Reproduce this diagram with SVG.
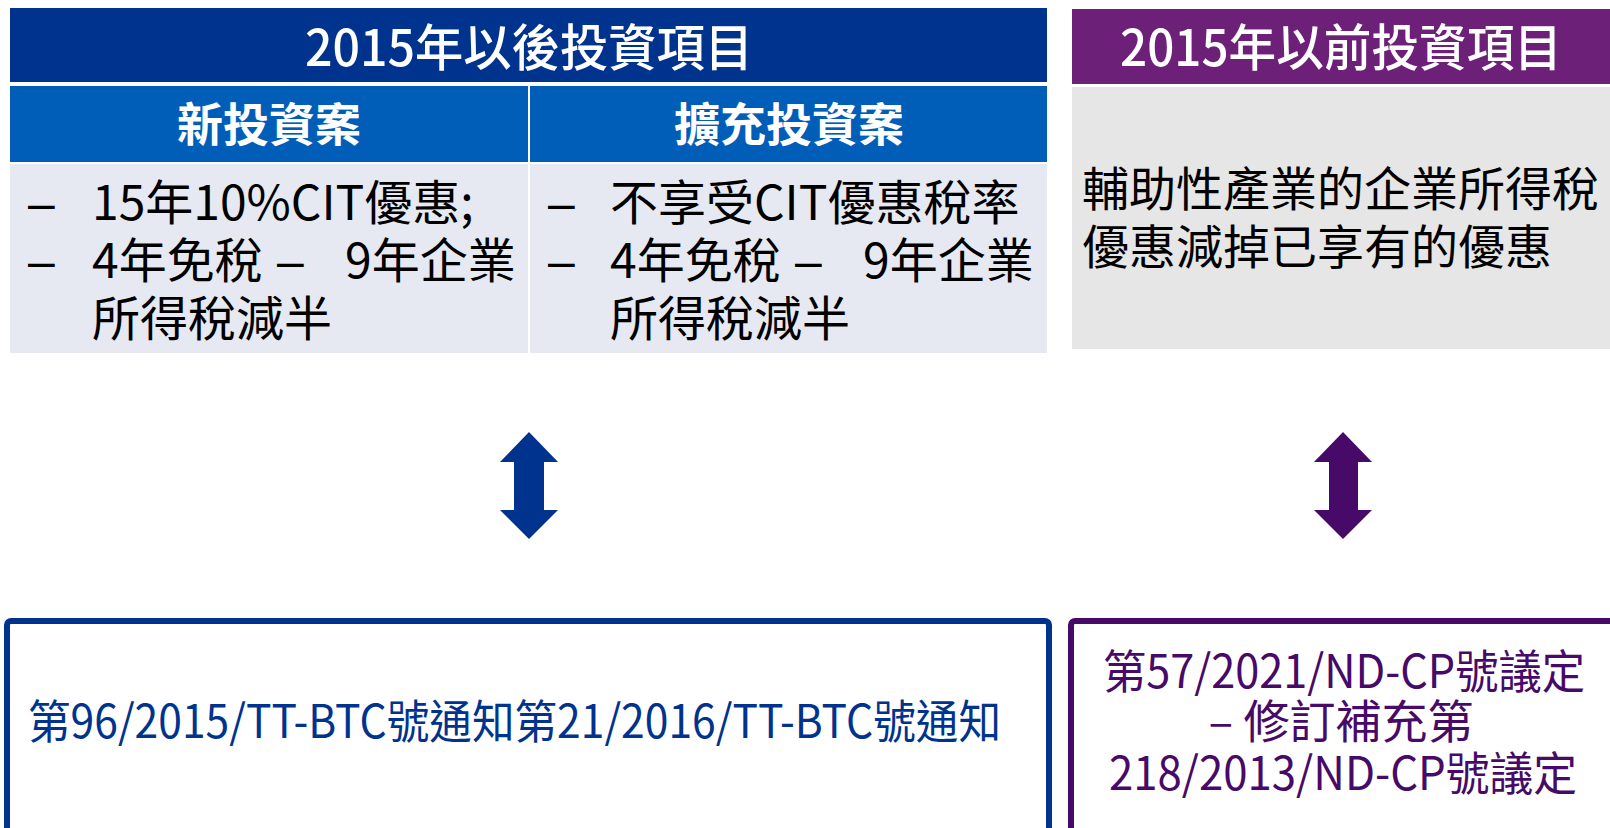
<svg xmlns="http://www.w3.org/2000/svg" width="1610" height="828" viewBox="0 0 1610 828">
<style>
  text { font-family: "Noto Sans CJK TC", "Noto Sans", sans-serif; }
  .hdr { fill: #ffffff; font-size: 50px; font-weight: 500; text-anchor: middle; }
  .sub { fill: #ffffff; font-size: 46px; font-weight: bold; text-anchor: middle; }
  .body { fill: #000000; font-size: 48px; }
  .dash { font-family: "Liberation Sans", "Noto Sans", sans-serif; }
  .gray { fill: #000000; font-size: 47px; }
  .btxt { fill: #00338D; font-size: 46px; }
  .ptxt { fill: #470A68; font-size: 46px; text-anchor: middle; }
</style>
<rect width="1610" height="828" fill="#ffffff"/>

<g id="header-after">
  <rect x="10" y="8" width="1037" height="74" fill="#00338D"/>
  <text class="hdr" x="529" y="66" textLength="448" lengthAdjust="spacingAndGlyphs">2015年以後投資項目</text>
</g>

<g id="new-investment">
  <rect x="10" y="86" width="518" height="76" fill="#005EB8"/>
  <text class="sub" x="269" y="141">新投資案</text>
  <rect x="10" y="164" width="518" height="189" fill="#E6E9F2"/>
  <text class="body"><tspan class="dash" x="28" y="220">–</tspan><tspan x="92" y="220">15年10%CIT優惠;</tspan><tspan class="dash" x="28" y="278">–</tspan><tspan x="92" y="278">4年免稅</tspan><tspan class="dash" x="277" y="278">–</tspan><tspan x="345" y="278">9年企業</tspan><tspan x="92" y="336">所得稅減半</tspan></text>
</g>

<g id="expansion-investment">
  <rect x="530" y="86" width="517" height="76" fill="#005EB8"/>
  <text class="sub" x="789" y="141">擴充投資案</text>
  <rect x="530" y="164" width="517" height="189" fill="#E6E9F2"/>
  <text class="body"><tspan class="dash" x="548" y="220">–</tspan><tspan x="610" y="220">不享受CIT優惠稅率</tspan><tspan class="dash" x="548" y="278">–</tspan><tspan x="610" y="278">4年免稅</tspan><tspan class="dash" x="795" y="278">–</tspan><tspan x="863" y="278">9年企業</tspan><tspan x="610" y="336">所得稅減半</tspan></text>
</g>

<g id="header-before">
  <rect x="1072" y="9" width="538" height="75" fill="#6D2077"/>
  <text class="hdr" x="1341" y="66" textLength="442" lengthAdjust="spacingAndGlyphs">2015年以前投資項目</text>
</g>

<g id="before-content">
  <rect x="1072" y="87" width="538" height="262" fill="#E6E6E6"/>
  <text class="gray"><tspan x="1082" y="206">輔助性產業的企業所得稅</tspan><tspan x="1082" y="264">優惠減掉已享有的優惠</tspan></text>
</g>

<g id="connectors">
  <polygon points="529,432 558,462 544,462 544,510 558,510 529,539 500,510 514,510 514,462 500,462" fill="#00338D"/>
  <polygon points="1343,432 1372,462 1358,462 1358,510 1372,510 1343,539 1314,510 1329,510 1329,462 1314,462" fill="#470A68"/>
</g>

<g id="circular-box">
  <rect x="7" y="621" width="1042" height="260" rx="4" fill="#ffffff" stroke="#00338D" stroke-width="6"/>
  <text class="btxt" x="28" y="738" textLength="973" lengthAdjust="spacingAndGlyphs">第96/2015/TT-BTC號通知第21/2016/TT-BTC號通知</text>
</g>

<g id="decree-box">
  <rect x="1071" y="621" width="580" height="260" rx="4" fill="#ffffff" stroke="#470A68" stroke-width="6"/>
  <text class="ptxt"><tspan x="1344" y="688" textLength="482" lengthAdjust="spacingAndGlyphs">第57/2021/ND-CP號議定</tspan><tspan x="1341" y="738">– 修訂補充第</tspan><tspan x="1343" y="790" textLength="468" lengthAdjust="spacingAndGlyphs">218/2013/ND-CP號議定</tspan></text>
</g>
</svg>
